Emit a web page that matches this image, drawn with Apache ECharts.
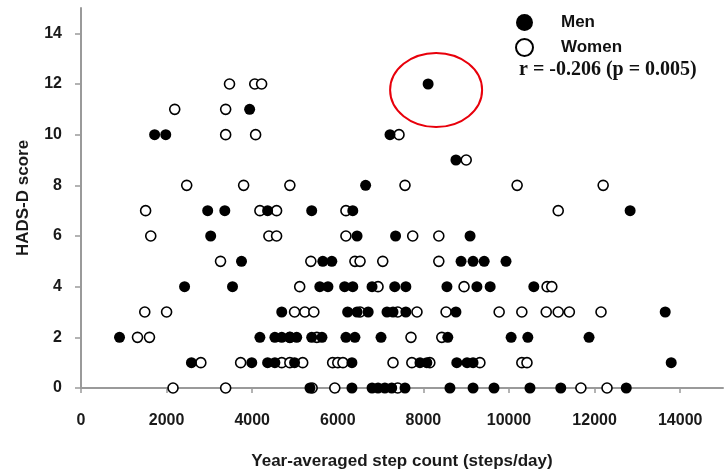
<!DOCTYPE html>
<html><head><meta charset="utf-8">
<script src="https://cdn.jsdelivr.net/npm/echarts@6/dist/echarts.min.js"></script>
<style>html,body{margin:0;padding:0;background:#fff}#c{width:724px;height:475px}</style>
</head><body><div id="c"></div>
<script>
// Data (steps/day, HADS-D score)
const menSteps = [
  8110,
  3940,
  1720, 1980, 7220,
  8760,
  6650,
  2960, 3360, 4360, 5390, 6350, 12830,
  3030, 6450, 7350, 9090,
  3750, 5650, 5860, 8880, 9160, 9420, 9930,
  2420, 3540, 5580, 5770, 6160, 6350, 6800, 7330, 7590, 8550, 9250, 9560, 10580,
  4690, 6230, 6450, 6710, 7150, 7290, 7590, 8760, 13650,
  900, 4180, 4530, 4690, 4880, 5040, 5390, 5630, 6190, 6400, 7010, 8570, 10050, 10440, 11870,
  2580, 3990, 4360, 4530, 4990, 6330, 7920, 8080, 8780, 9020, 9160, 13790,
  5350, 6330, 6800, 6940, 7100, 7260, 7570, 8620, 9160, 9650, 10490, 11210, 12740
];
const menScores = [
  12,
  11,
  10, 10, 10,
  9,
  8,
  7, 7, 7, 7, 7, 7,
  6, 6, 6, 6,
  5, 5, 5, 5, 5, 5, 5,
  4, 4, 4, 4, 4, 4, 4, 4, 4, 4, 4, 4, 4,
  3, 3, 3, 3, 3, 3, 3, 3, 3,
  2, 2, 2, 2, 2, 2, 2, 2, 2, 2, 2, 2, 2, 2, 2,
  1, 1, 1, 1, 1, 1, 1, 1, 1, 1, 1, 1,
  0, 0, 0, 0, 0, 0, 0, 0, 0, 0, 0, 0, 0
];
const womenSteps = [
  3470, 4060, 4220,
  2190, 3380,
  3380, 4080, 7430,
  9000,
  2470, 3800, 4880, 7570, 10190, 12200,
  1510, 4180, 4570, 6190, 11150,
  1630, 4390, 4570, 6190, 7750, 8360,
  3260, 5370, 6400, 6520, 7050, 8360,
  5110, 6940, 8950, 10890, 11000,
  1490, 2000, 4990, 5230, 5440, 6520, 7400, 7850, 8530, 9770, 10300, 10870, 11150, 11410, 12150,
  1320, 1600, 4880, 5510, 7710, 8430,
  2800, 3730, 4690, 4880, 5180, 5880, 6000, 6120, 7290, 7730, 8150, 9320, 10300, 10420,
  2150, 3380, 5400, 5930, 7400, 11680, 12290
];
const womenScores = [
  12, 12, 12,
  11, 11,
  10, 10, 10,
  9,
  8, 8, 8, 8, 8, 8,
  7, 7, 7, 7, 7,
  6, 6, 6, 6, 6, 6,
  5, 5, 5, 5, 5, 5,
  4, 4, 4, 4, 4,
  3, 3, 3, 3, 3, 3, 3, 3, 3, 3, 3, 3, 3, 3, 3,
  2, 2, 2, 2, 2, 2,
  1, 1, 1, 1, 1, 1, 1, 1, 1, 1, 1, 1, 1, 1,
  0, 0, 0, 0, 0, 0, 0
];
const xTicks = [0, 2000, 4000, 6000, 8000, 10000, 12000, 14000];
const yTicks = [0, 2, 4, 6, 8, 10, 12, 14];
const highlighted = [8110, 12];
const statText = 'r = -0.206 (p = 0.005)';

const zip = (a, b) => a.map((v, i) => [v, b[i]]);
const chart = echarts.init(document.getElementById('c'));
const axisColor = '#9a9a9a';
const labelFont = {fontFamily: 'Liberation Sans, Arial, sans-serif', fontWeight: 'bold', fontSize: 16, color: '#1a1a1a'};

chart.setOption({
  animation: false,
  backgroundColor: '#fff',
  grid: {left: 81, right: 1, top: 8, bottom: 87, containLabel: false},
  legend: {
    orient: 'vertical', left: 510, top: 9,
    itemWidth: 17, itemHeight: 17, itemGap: 7,
    icon: 'circle',
    textStyle: {fontFamily: 'Liberation Sans, Arial, sans-serif', fontWeight: 'bold', fontSize: 17, color: '#111', padding: [0, 0, 0, 23]},
    data: ['Men', 'Women']
  },
  xAxis: {
    type: 'value', min: 0, max: 15000, interval: 2000,
    name: 'Year-averaged step count (steps/day)', nameLocation: 'middle', nameGap: 65,
    nameTextStyle: Object.assign({}, labelFont, {fontSize: 17}),
    axisLine: {lineStyle: {color: axisColor, width: 2}},
    axisTick: {show: true, inside: false, length: 5, lineStyle: {color: axisColor, width: 1.5},
      customValues: xTicks},
    axisLabel: Object.assign({}, labelFont, {margin: 25, customValues: xTicks,
      formatter: v => xTicks.includes(v) ? String(v) : ''}),
    splitLine: {show: false}
  },
  yAxis: {
    type: 'value', min: 0, max: 15, interval: 2,
    name: 'HADS-D score', nameLocation: 'middle', nameGap: 49, nameRotate: 90,
    nameTextStyle: Object.assign({}, labelFont, {fontSize: 17}),
    axisLine: {show: true, lineStyle: {color: axisColor, width: 2}},
    axisTick: {show: true, length: 6, lineStyle: {color: axisColor, width: 1.5}, customValues: yTicks},
    axisLabel: Object.assign({}, labelFont, {margin: 19, customValues: yTicks,
      formatter: v => yTicks.includes(v) ? String(v) : ''}),
    splitLine: {show: false}
  },
  series: [
    {
      name: 'Women', type: 'scatter', symbol: 'circle', symbolSize: 10, z: 2,
      itemStyle: {color: '#ffffff', borderColor: '#000', borderWidth: 1.6, opacity: 1},
      data: zip(womenSteps, womenScores)
    },
    {
      name: 'Men', type: 'scatter', symbol: 'circle', symbolSize: 11, z: 3,
      itemStyle: {color: '#000', borderColor: '#000', borderWidth: 0, opacity: 1},
      data: zip(menSteps, menScores)
    }
  ]
});

const c = chart.convertToPixel({gridIndex: 0}, highlighted);
chart.setOption({
  graphic: [
    {type: 'ellipse', shape: {cx: c[0] + 8, cy: c[1] + 6, rx: 46, ry: 37},
      style: {fill: 'none', stroke: '#e8000b', lineWidth: 2}, z: 10},
    {type: 'text', left: 519, top: 60,
      style: {text: statText, fontFamily: 'Liberation Serif, Times New Roman, serif', fontWeight: 'bold', fontSize: 20, fill: '#111'}, z: 10}
  ]
});
</script></body></html>
